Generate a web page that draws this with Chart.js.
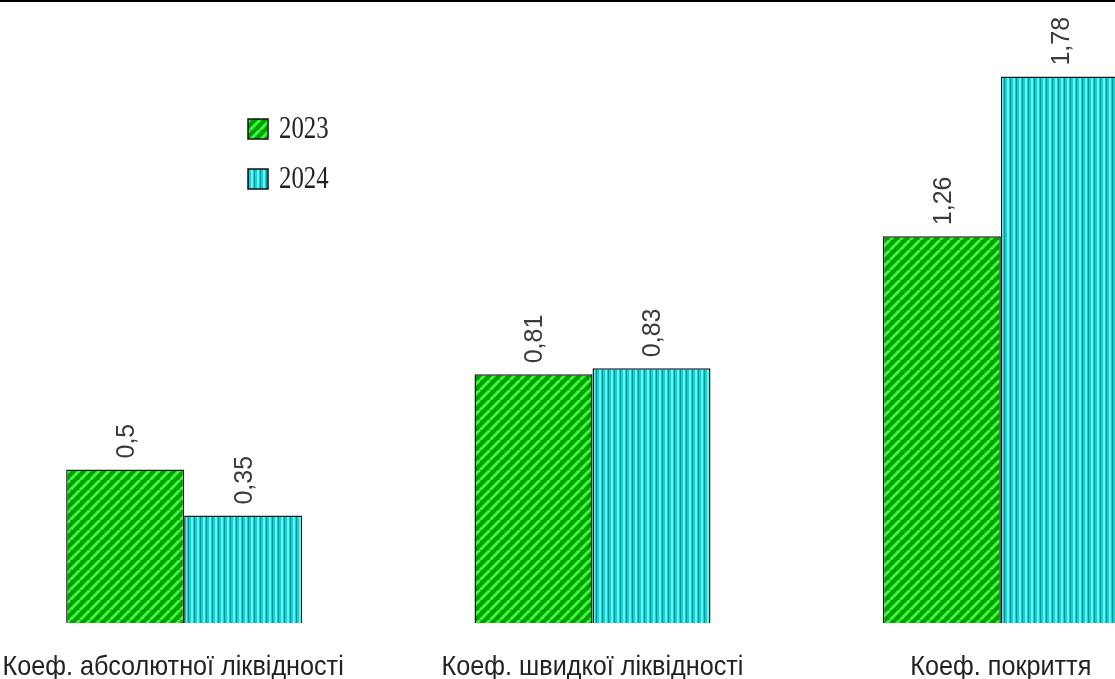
<!DOCTYPE html>
<html>
<head>
<meta charset="utf-8">
<script src="https://cdn.jsdelivr.net/npm/chart.js@4"></script>
<style>
  html, body { margin: 0; padding: 0; background: #fff; overflow: hidden; }
  #frame { position: relative; width: 1115px; height: 679px; overflow: hidden; border-top: 2px solid #000; box-sizing: border-box; }
  #wrap { position: absolute; left: -20px; top: -2px; width: 1225px; height: 679px; }
</style>
</head>
<body>
<div id="frame">
  <div id="wrap"><canvas id="chart"></canvas></div>
</div>
<script>
const categories = ['Коеф. абсолютної ліквідності', 'Коеф. швидкої ліквідності', 'Коеф. покриття'];
const years = ['2023', '2024'];
const values2023 = [0.5, 0.81, 1.26];
const values2024 = [0.35, 0.83, 1.78];

// hatch fills like the original
function greenHatch() {
  const c = document.createElement('canvas');
  c.width = 10; c.height = 10;
  const g = c.getContext('2d');
  g.fillStyle = '#00a000';
  g.fillRect(0, 0, 10, 10);
  g.strokeStyle = '#3cf83c';
  g.lineWidth = 3;
  for (let k = -10; k <= 20; k += 10) {
    g.beginPath();
    g.moveTo(k, 10);
    g.lineTo(k + 10, 0);
    g.stroke();
  }
  return g.createPattern(c, 'repeat');
}

function cyanLines() {
  const c = document.createElement('canvas');
  c.width = 6; c.height = 2;
  const g = c.getContext('2d');
  g.fillStyle = '#18d0d0';
  g.fillRect(0, 0, 6, 2);
  g.fillStyle = '#5cf8f8';
  g.fillRect(1, 0, 2, 2);
  g.fillStyle = '#0a9698';
  g.fillRect(4, 0, 1, 2);
  return g.createPattern(c, 'repeat');
}

const fills = [greenHatch(), cyanLines()];

const valueLabels = {
  id: 'valueLabels',
  afterDatasetsDraw(chart) {
    const ctx = chart.ctx;
    ctx.save();
    ctx.font = '25px "Liberation Sans", Arial, sans-serif';
    ctx.fillStyle = '#3a3a3a';
    ctx.textAlign = 'left';
    ctx.textBaseline = 'middle';
    chart.data.datasets.forEach((ds, di) => {
      chart.getDatasetMeta(di).data.forEach((bar, i) => {
        const txt = String(ds.data[i]).replace('.', ',');
        ctx.save();
        ctx.translate(bar.x + 2, bar.y - 11);
        ctx.rotate(-Math.PI / 2);
        ctx.fillText(txt, 0, 0);
        ctx.restore();
      });
    });
    ctx.restore();
  }
};

const categoryLabels = {
  id: 'categoryLabels',
  afterDraw(chart) {
    const ctx = chart.ctx;
    const x = chart.scales.x;
    ctx.save();
    ctx.fillStyle = '#222';
    ctx.textAlign = 'center';
    ctx.textBaseline = 'alphabetic';
    ctx.font = '28px "Liberation Sans", Arial, sans-serif';
    categories.forEach((c, i) => {
      let cx = x.getPixelForValue(i);
      if (i === 0) cx -= 11;
      ctx.save();
      ctx.translate(cx, 675);
      ctx.scale(0.9, 1);
      ctx.fillText(c, 0, 0);
      ctx.restore();
    });
    ctx.restore();
  }
};

const legendBox = {
  id: 'legendBox',
  afterDraw(chart) {
    const ctx = chart.ctx;
    ctx.save();
    years.forEach((y, i) => {
      const bx = 268, by = 119 + i * 50;
      ctx.fillStyle = fills[i];
      ctx.fillRect(bx, by, 20, 20);
      ctx.strokeStyle = '#111';
      ctx.lineWidth = 1.5;
      ctx.strokeRect(bx, by, 20, 20);
      ctx.fillStyle = '#222';
      ctx.font = '31px "Liberation Serif", "Times New Roman", serif';
      ctx.textBaseline = 'middle';
      ctx.save();
      ctx.translate(bx + 31, by + 11);
      ctx.scale(0.8, 1);
      ctx.fillText(y, 0, 0);
      ctx.restore();
    });
    ctx.restore();
  }
};

new Chart(document.getElementById('chart'), {
  type: 'bar',
  data: {
    labels: categories,
    datasets: [
      { label: years[0], data: values2023, backgroundColor: fills[0], borderColor: '#1a1a1a', borderWidth: 1.5 },
      { label: years[1], data: values2024, backgroundColor: fills[1], borderColor: '#1a1a1a', borderWidth: 1.5 }
    ]
  },
  options: {
    responsive: true,
    maintainAspectRatio: false,
    animation: false,
    layout: { padding: { top: 9, bottom: 56, left: 0, right: 0 } },
    datasets: { bar: { categoryPercentage: 0.578, barPercentage: 1 } },
    plugins: { legend: { display: false }, tooltip: { enabled: false } },
    scales: {
      x: { display: false },
      y: { display: false, min: 0, max: 2 }
    }
  },
  plugins: [valueLabels, categoryLabels, legendBox]
});
</script>
</body>
</html>
